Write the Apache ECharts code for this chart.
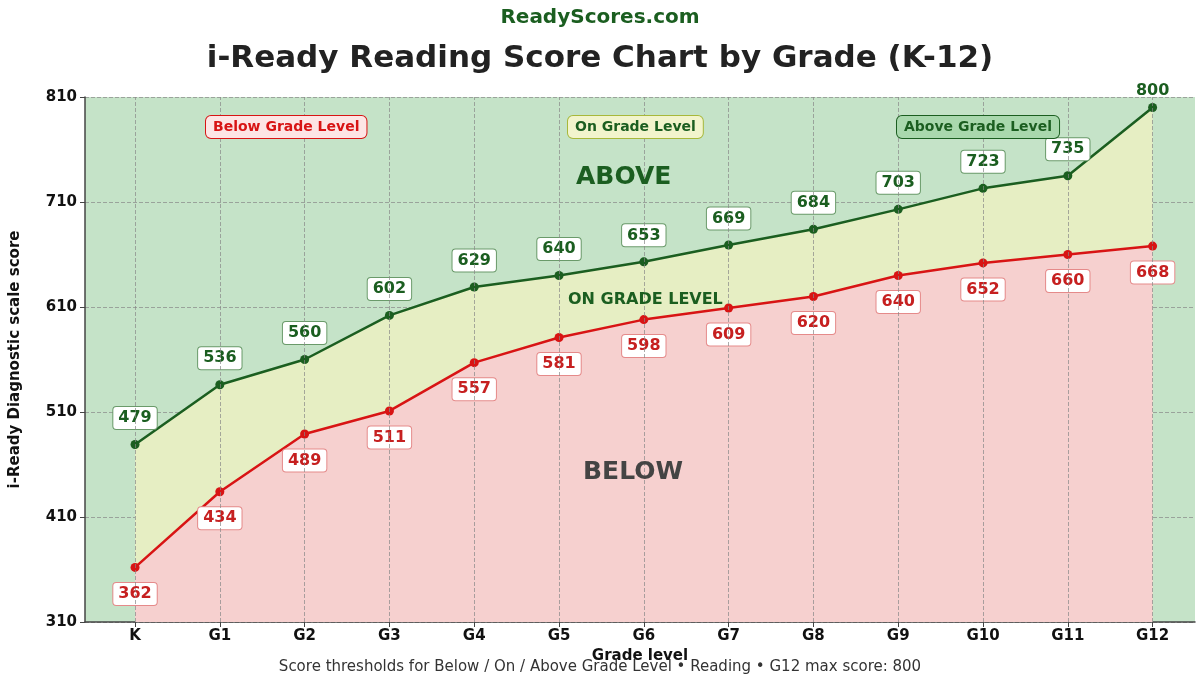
<!DOCTYPE html><html><head><meta charset="utf-8"><script src="https://cdn.jsdelivr.net/npm/echarts@6/dist/echarts.min.js"></script></head><body style="margin:0;background:#fff"><div id="c" style="width:1200px;height:675px"></div><script>
const grades=['K','G1','G2','G3','G4','G5','G6','G7','G8','G9','G10','G11','G12'];
const below=[362,434,489,511,557,581,598,609,620,640,652,660,668];
const above=[479,536,560,602,629,640,653,669,684,703,723,735,800];
const yTicks=[310,410,510,610,710,810];
const F='DejaVu Sans';
const ch=echarts.init(document.getElementById('c'));
const lbl=(c,pos)=>({show:true,position:pos,distance:11,fontFamily:F,fontWeight:'bold',fontSize:16,color:c,backgroundColor:'#fff',borderColor:c==='#1b5e20'?'#6a9a6a':'#e58a8a',borderWidth:1,borderRadius:3,padding:[3,5]});
const gd=above.map((v,i)=>{const o={value:[i,v]}; if(i===12)o.label={backgroundColor:'transparent',borderWidth:0,padding:0,distance:4}; return o;});
const xIdx=grades.map((g,i)=>i);
ch.setOption({
animation:false,
title:[{text:'ReadyScores.com',left:'center',top:3,textStyle:{fontFamily:F,fontSize:20,fontWeight:'bold',color:'#1b5e20'}},
{text:'i-Ready Reading Score Chart by Grade (K-12)',left:'center',top:38,textStyle:{fontFamily:F,fontSize:31,fontWeight:'bold',color:'#222'}},
{text:'Score thresholds for Below / On / Above Grade Level • Reading • G12 max score: 800',left:'center',top:655,textStyle:{fontFamily:F,fontSize:15,fontWeight:'normal',color:'#333'}}],
grid:{left:82,right:5,top:97,bottom:53,backgroundColor:'#c5e3c8',show:true,borderWidth:0},
xAxis:{type:'value',min:-0.59,max:12.5,interval:1,name:'Grade level',nameLocation:'middle',nameGap:25,nameTextStyle:{fontFamily:F,fontWeight:'bold',fontSize:15,color:'#111'},
axisLine:{onZero:false,lineStyle:{color:'#444',width:1.5}},axisTick:{show:true,customValues:xIdx,lineStyle:{color:'#444'}},
axisLabel:{fontFamily:F,fontWeight:'bold',fontSize:15,color:'#111',margin:7,customValues:xIdx,formatter:v=>grades[Math.round(v)]},
splitLine:{show:false}},
yAxis:{type:'value',min:310,max:810,interval:50,name:'i-Ready Diagnostic scale score',nameLocation:'middle',nameGap:62,nameTextStyle:{fontFamily:F,fontWeight:'bold',fontSize:15,color:'#111'},
axisLine:{show:true,onZero:false,lineStyle:{color:'#444',width:1.5}},axisTick:{show:true,customValues:yTicks,lineStyle:{color:'#444'}},
axisLabel:{fontFamily:F,fontWeight:'bold',fontSize:15,color:'#111',customValues:yTicks},
splitLine:{lineStyle:{type:'dashed',color:'#888',opacity:0.7}}},
series:[
{type:'line',data:gd,symbol:'circle',symbolSize:9,lineStyle:{color:'#1b5e20',width:2.5},itemStyle:{color:'#1b5e20'},areaStyle:{color:'#e6eec3',opacity:1,origin:'start'},label:lbl('#1b5e20','top'),z:3},
{type:'line',data:below.map((v,i)=>[i,v]),symbol:'circle',symbolSize:9,lineStyle:{color:'#d81414',width:2.5},itemStyle:{color:'#d81414'},areaStyle:{color:'#f6d0cf',opacity:1,origin:'start'},label:lbl('#c62020','bottom'),z:4,
markLine:{silent:true,symbol:'none',label:{show:false},lineStyle:{type:'dashed',color:'#888',width:1,opacity:0.7},data:xIdx.map(i=>({xAxis:i})),z:5}}
],
graphic:[
{type:'text',left:205,top:115,z:10,style:{text:'Below Grade Level',fontFamily:F,fontWeight:'bold',fontSize:14,fill:'#d81414',backgroundColor:'#fde5e5',borderColor:'#d81414',borderWidth:1,borderRadius:5,padding:[4,7]}},
{type:'text',left:567,top:115,z:10,style:{text:'On Grade Level',fontFamily:F,fontWeight:'bold',fontSize:14,fill:'#1b5e20',backgroundColor:'#f2f4cc',borderColor:'#a8b83a',borderWidth:1,borderRadius:5,padding:[4,7]}},
{type:'text',left:896,top:115,z:10,style:{text:'Above Grade Level',fontFamily:F,fontWeight:'bold',fontSize:14,fill:'#1b5e20',backgroundColor:'#a9d8ad',borderColor:'#1b5e20',borderWidth:1,borderRadius:5,padding:[4,7]}},
{type:'text',left:576,top:165,z:10,style:{text:'ABOVE',fontFamily:F,fontWeight:'bold',fontSize:25,fill:'#1b5e20'}},
{type:'text',left:568,top:292,z:10,style:{text:'ON GRADE LEVEL',fontFamily:F,fontWeight:'bold',fontSize:16,fill:'#1b5e20'}},
{type:'text',left:583,top:460,z:10,style:{text:'BELOW',fontFamily:F,fontWeight:'bold',fontSize:25,fill:'#444'}}
]});
</script></body></html>
